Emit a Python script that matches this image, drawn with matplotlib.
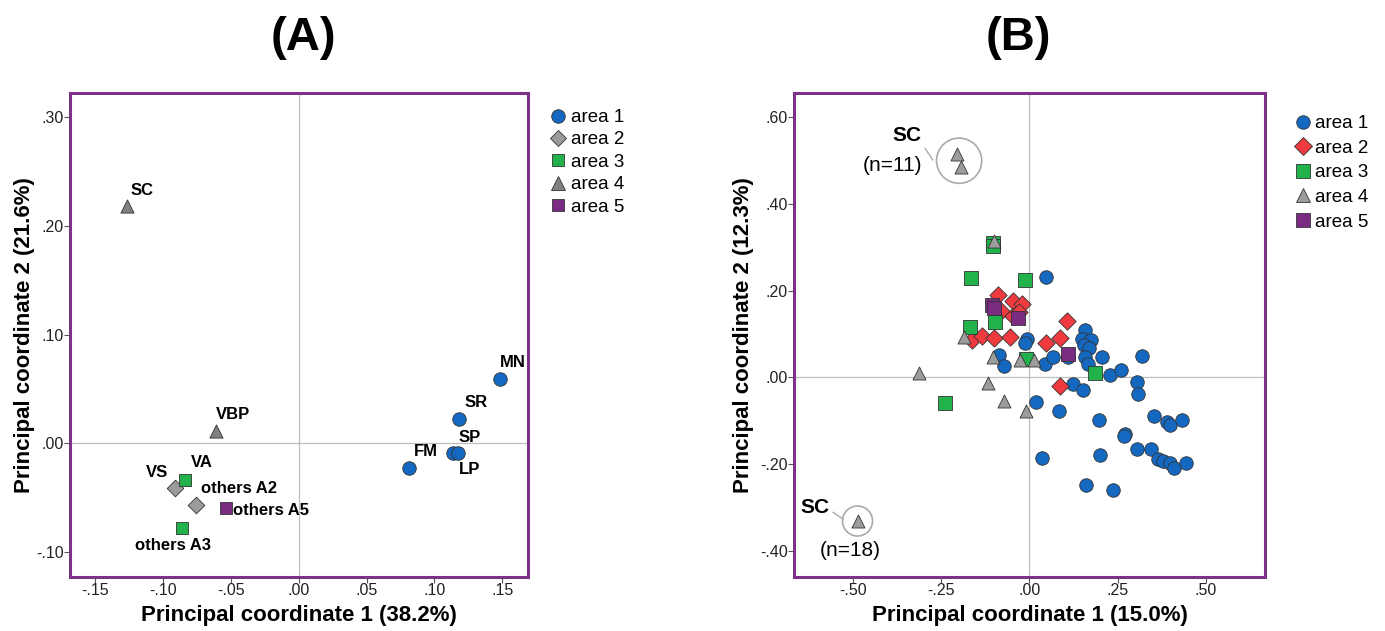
import matplotlib
matplotlib.use('Agg')
import matplotlib.pyplot as plt
from matplotlib.lines import Line2D
from matplotlib.ticker import FuncFormatter, FixedLocator

plt.rcParams['font.family'] = ['Liberation Sans', 'DejaVu Sans']

# ---------------- Panel A data ----------------
a1_names = ['FM', 'LP', 'SP', 'SR', 'MN']
a1_x = [0.081, 0.114, 0.117, 0.118, 0.148]
a1_y = [-0.023, -0.009, -0.009, 0.022, 0.059]
a2_names = ['VS', 'others A2']
a2_x = [-0.091, -0.0756]
a2_y = [-0.041, -0.0566]
a3_names = ['VA', 'others A3']
a3_x = [-0.0837, -0.0857]
a3_y = [-0.0333, -0.0776]
a4_names = ['SC', 'VBP']
a4_x = [-0.126, -0.0606]
a4_y = [0.218, 0.0113]
a5_names = ['others A5']
a5_x = [-0.0535]
a5_y = [-0.0592]

# ---------------- Panel B data ----------------
b1_x = [0.047, -0.007, -0.013, -0.086, -0.071, 0.044, 0.068, 0.111, 0.159, 0.149,
        0.175, 0.155, 0.170, 0.157, 0.167, 0.207, 0.230, 0.260, 0.319, 0.306,
        0.307, 0.124, 0.152, 0.020, 0.083, 0.197, 0.354, 0.390, 0.400, 0.432,
        0.271, 0.268, 0.304, 0.346, 0.366, 0.378, 0.400, 0.410, 0.443, 0.200,
        0.035, 0.162, 0.238]
b1_y = [0.230, 0.088, 0.078, 0.052, 0.027, 0.030, 0.047, 0.047, 0.109, 0.088,
        0.086, 0.075, 0.068, 0.047, 0.030, 0.047, 0.006, 0.018, 0.049, -0.010,
        -0.038, -0.016, -0.029, -0.058, -0.077, -0.099, -0.089, -0.102, -0.110, -0.099,
        -0.130, -0.135, -0.165, -0.165, -0.188, -0.192, -0.198, -0.209, -0.198, -0.179,
        -0.186, -0.248, -0.259]
b2_x = [-0.089, -0.047, -0.020, -0.080, -0.047, -0.030, -0.162, -0.133, -0.099, -0.056,
        0.048, 0.086, 0.106, 0.086]
b2_y = [0.189, 0.175, 0.169, 0.153, 0.141, 0.150, 0.085, 0.096, 0.091, 0.094,
        0.078, 0.091, 0.130, -0.020]
b3_x = [-0.104, -0.103, -0.164, -0.013, -0.167, -0.098, -0.010, 0.187, -0.240]
b3_y = [0.310, 0.302, 0.229, 0.225, 0.116, 0.128, 0.043, 0.010, -0.060]
b4_x = [-0.205, -0.193, -0.099, -0.185, -0.103, -0.027, 0.012, -0.314, -0.116, -0.073,
        -0.010, -0.487]
b4_y = [0.514, 0.484, 0.314, 0.092, 0.047, 0.039, 0.041, 0.010, -0.012, -0.054,
        -0.078, -0.331]
b5_x = [-0.106, -0.101, -0.032, 0.109]
b5_y = [0.167, 0.160, 0.137, 0.054]

legend_labels = ['area 1', 'area 2', 'area 3', 'area 4', 'area 5']

# ---------------- styles ----------------
W, H = 1385, 631
FRAME = '#7E3189'
BLUE = '#1468C0'
GRAY_D = '#9B9B9B'
RED = '#EF3B3F'
GREEN = '#22B24C'
GRAY_T_A = '#808080'
GRAY_T_B = '#9C9C9C'
PURPLE = '#7A2C82'
EDGE = '#333333'

# label offsets (points) for panel A: (dx, dy, ha)
a_label_off = {
    'SC': (2, 11, 'left'), 'VBP': (0, 12, 'left'), 'VS': (-5, 11.5, 'right'),
    'VA': (4, 12, 'left'), 'others A2': (3.6, 12, 'left'), 'others A5': (4.8, -1.8, 'left'),
    'others A3': (-6.5, -12.5, 'center'), 'FM': (3.6, 12, 'left'), 'SP': (1, 11.5, 'left'),
    'LP': (4, -11.5, 'left'), 'SR': (4, 12, 'left'), 'MN': (0, 12, 'left'),
}

fig = plt.figure(figsize=(W / 100, H / 100), dpi=100)


def fmt(v, _):
    return f"{v:.2f}".replace("0.", ".", 1)


def style_axes(ax, xt, yt, xlim, ylim):
    ax.set_xlim(*xlim)
    ax.set_ylim(*ylim)
    ax.xaxis.set_major_locator(FixedLocator(xt))
    ax.yaxis.set_major_locator(FixedLocator(yt))
    ax.xaxis.set_major_formatter(FuncFormatter(fmt))
    ax.yaxis.set_major_formatter(FuncFormatter(fmt))
    for s in ax.spines.values():
        s.set_color(FRAME)
        s.set_linewidth(2.2)
    ax.tick_params(direction='out', length=4, width=0.8, color='#555555',
                   labelsize=11.5, labelcolor='#222222', pad=0.5,
                   top=False, right=False)
    ax.axhline(0, color='#BDBDBD', lw=0.9, zorder=1)
    ax.axvline(0, color='#BDBDBD', lw=0.9, zorder=1)


# ---------------- Panel A ----------------
axA = fig.add_axes([70 / W, 1 - 577 / H, 458 / W, 484 / H])
style_axes(axA, [-0.15, -0.10, -0.05, 0.0, 0.05, 0.10, 0.15], [-0.1, 0.0, 0.1, 0.2, 0.3],
           (-0.1683, 0.1689), (-0.1228, 0.322))

specA = [
    (a1_names, a1_x, a1_y, 'o', BLUE, 95),
    (a2_names, a2_x, a2_y, 'D', GRAY_D, 72),
    (a3_names, a3_x, a3_y, 's', GREEN, 80),
    (a4_names, a4_x, a4_y, '^', GRAY_T_A, 90),
    (a5_names, a5_x, a5_y, 's', PURPLE, 80),
]
for names, xs, ys, m, c, s in specA:
    axA.scatter(xs, ys, marker=m, s=s, facecolor=c, edgecolor=EDGE, linewidths=0.6, zorder=3)
    for n, x, y in zip(names, xs, ys):
        dx, dy, ha = a_label_off[n]
        axA.annotate(n, (x, y), xytext=(dx, dy), textcoords='offset points',
                     ha=ha, va='center', fontsize=12, fontweight='bold', zorder=4)

axA.set_xlabel('Principal coordinate 1 (38.2%)', fontsize=16, fontweight='bold', labelpad=5)
axA.set_ylabel('Principal coordinate 2 (21.6%)', fontsize=16, fontweight='bold', labelpad=1)

handlesA = [Line2D([], [], ls='none', marker=m, markersize=s ** 0.5, markerfacecolor=c,
                   markeredgecolor=EDGE, markeredgewidth=0.6) for _, _, _, m, c, s in specA]
fig.legend(handlesA, legend_labels, loc='upper left', bbox_to_anchor=(550.5 / W, 1 - 109 / H),
           frameon=False, fontsize=13.5, handlelength=0.8, handletextpad=0.3,
           labelspacing=0.28, borderpad=0, borderaxespad=0)

# ---------------- Panel B ----------------
axB = fig.add_axes([794 / W, 1 - 577 / H, 471 / W, 484 / H])
style_axes(axB, [-0.50, -0.25, 0.0, 0.25, 0.50], [-0.4, -0.2, 0.0, 0.2, 0.4, 0.6],
           (-0.667, 0.668), (-0.46, 0.655))

specB = [
    (b1_x, b1_y, 'o', BLUE, 95),
    (b2_x, b2_y, 'D', RED, 78),
    (b3_x, b3_y, 's', GREEN, 90),
    (b4_x, b4_y, '^', GRAY_T_B, 88),
    (b5_x, b5_y, 's', PURPLE, 90),
]
for xs, ys, m, c, s in specB:
    axB.scatter(xs, ys, marker=m, s=s, facecolor=c, edgecolor=EDGE, linewidths=0.6, zorder=3)

# SC annotations (circles around the SC points)
sc11_x = sum(b4_x[:2]) / 2
sc11_y = sum(b4_y[:2]) / 2
axB.scatter([sc11_x], [sc11_y], s=1060, facecolor='none', edgecolor='#AAAAAA', linewidths=1.2, zorder=2)
axB.scatter([b4_x[-1]], [b4_y[-1]], s=467, facecolor='none', edgecolor='#AAAAAA', linewidths=1.2, zorder=2)
axB.plot([-0.295, -0.274], [0.527, 0.501], color='#AAAAAA', lw=1.0, zorder=2)
axB.plot([-0.556, -0.528], [-0.311, -0.327], color='#AAAAAA', lw=1.0, zorder=2)
axB.text(-0.347, 0.556, 'SC', ha='center', va='center', fontsize=15, fontweight='bold')
axB.text(-0.388, 0.488, '(n=11)', ha='center', va='center', fontsize=15)
axB.text(-0.607, -0.300, 'SC', ha='center', va='center', fontsize=15, fontweight='bold')
axB.text(-0.508, -0.398, '(n=18)', ha='center', va='center', fontsize=15)

axB.set_xlabel('Principal coordinate 1 (15.0%)', fontsize=16, fontweight='bold', labelpad=5)
axB.set_ylabel('Principal coordinate 2 (12.3%)', fontsize=16, fontweight='bold', labelpad=4.5)

handlesB = [Line2D([], [], ls='none', marker=m, markersize=s ** 0.5, markerfacecolor=c,
                   markeredgecolor=EDGE, markeredgewidth=0.6) for _, _, m, c, s in specB]
fig.legend(handlesB, legend_labels, loc='upper left', bbox_to_anchor=(1295.5 / W, 1 - 115 / H),
           frameon=False, fontsize=13.5, handlelength=0.8, handletextpad=0.24,
           labelspacing=0.4, borderpad=0, borderaxespad=0)

# ---------------- Titles ----------------
fig.text(303 / W, 1 - 38 / H, '(A)', ha='center', va='center', fontsize=34, fontweight='bold')
fig.text(1018 / W, 1 - 38 / H, '(B)', ha='center', va='center', fontsize=34, fontweight='bold')

fig.savefig('out.png', dpi=100)
